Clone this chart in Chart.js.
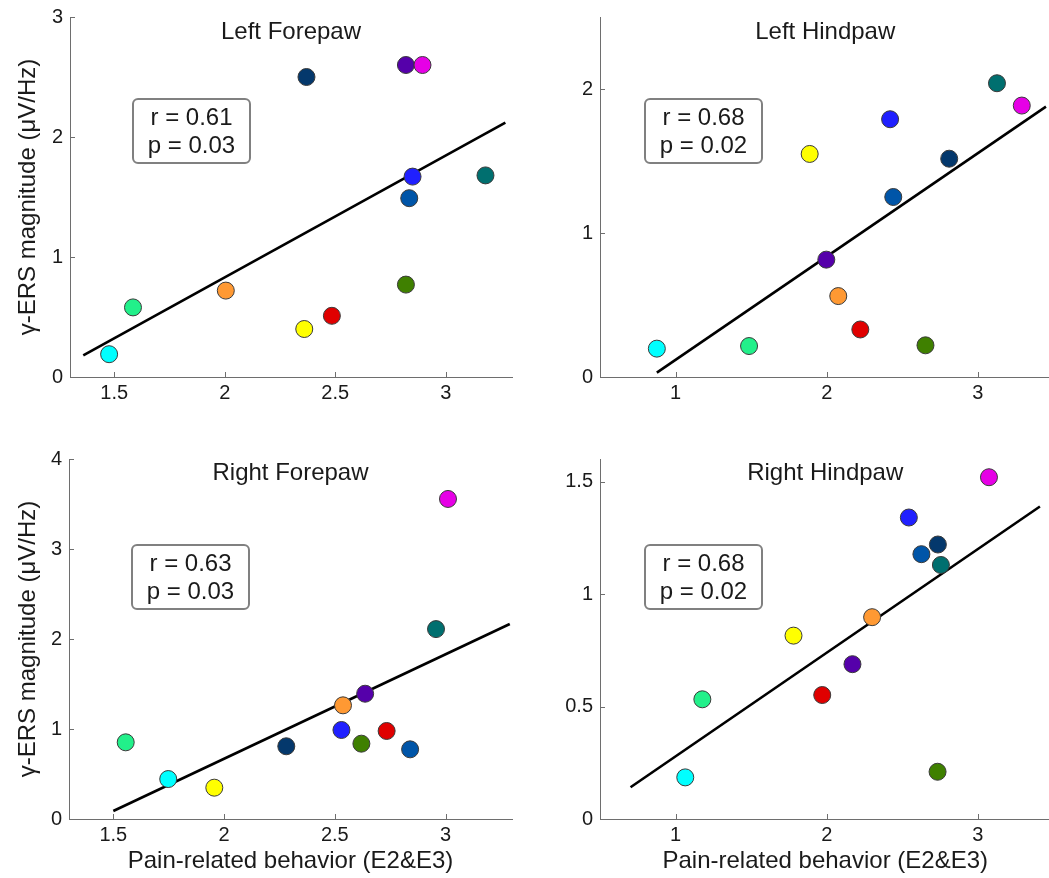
<!DOCTYPE html>
<html>
<head>
<meta charset="utf-8">
<script src="https://cdn.jsdelivr.net/npm/chart.js@4"></script>
<style>
  html, body { margin: 0; padding: 0; background: #fff; overflow: hidden; }
  #wrap { position: relative; width: 1049px; height: 878px; overflow: hidden; }
  canvas { position: absolute; }
</style>
</head>
<body>
<div id="wrap">
  <canvas id="lf" width="525" height="420" style="left:0;top:0"></canvas>
  <canvas id="lh" width="535" height="420" style="left:525px;top:0"></canvas>
  <canvas id="rf" width="525" height="458" style="left:0;top:420px"></canvas>
  <canvas id="rh" width="535" height="458" style="left:525px;top:420px"></canvas>
</div>
<script>
// one colour per animal, same order in every panel
const animalColors = ['#00ffff', '#22f08a', '#ffff00', '#ff9933', '#e00000', '#5500aa',
                      '#3f8000', '#2020ff', '#0055a8', '#04386c', '#006f6f', '#e600e6'];

// Left Forepaw
const lfX = [1.477, 1.585, 2.36, 2.005, 2.485, 2.82, 2.82, 2.85, 2.835, 2.37, 3.18, 2.895];
const lfY = [0.19, 0.58, 0.40, 0.72, 0.51, 2.60, 0.77, 1.67, 1.49, 2.50, 1.68, 2.60];
const lfFit = [1.36, 0.18, 3.27, 2.12];
const lfStats = ['r = 0.61', 'p = 0.03'];

// Left Hindpaw
const lhX = [0.876, 1.486, 1.887, 2.076, 2.222, 1.997, 2.653, 2.419, 2.44, 2.81, 3.126, 3.29];
const lhY = [0.197, 0.215, 1.549, 0.562, 0.33, 0.815, 0.22, 1.79, 1.25, 1.516, 2.04, 1.885];
const lhFit = [0.876, 0.03, 3.45, 1.878];
const lhStats = ['r = 0.68', 'p = 0.02'];

// Right Forepaw
const rfX = [1.748, 1.556, 1.956, 2.537, 2.734, 2.637, 2.62, 2.53, 2.84, 2.281, 2.957, 3.011];
const rfY = [0.444, 0.852, 0.348, 1.263, 0.978, 1.392, 0.837, 0.989, 0.774, 0.808, 2.11, 3.556];
const rfFit = [1.5, 0.089, 3.29, 2.167];
const rfStats = ['r = 0.63', 'p = 0.03'];

// Right Hindpaw
const rhX = [1.064, 1.177, 1.78, 2.30, 1.97, 2.17, 2.733, 2.543, 2.626, 2.735, 2.755, 3.073];
const rhY = [0.185, 0.532, 0.815, 0.897, 0.551, 0.688, 0.21, 1.340, 1.177, 1.22, 1.129, 1.519];
const rhFit = [0.702, 0.141, 3.41, 1.389];
const rhStats = ['r = 0.68', 'p = 0.02'];

// ticks
const foreXTicks = [1.5, 2, 2.5, 3];
const hindXTicks = [1, 2, 3];
const lfYTicks = [0, 1, 2, 3];
const lhYTicks = [0, 1, 2];
const rfYTicks = [0, 1, 2, 3, 4];
const rhYTicks = [0, 0.5, 1, 1.5];

const xLabel = 'Pain-related behavior (E2&E3)';
const yLabel = 'γ-ERS magnitude (μV/Hz)';

const FONT = '"Liberation Sans", Arial, sans-serif';
const AXIS_COLOR = '#6e6e6e';
const TEXT_COLOR = '#1a1a1a';

document.addEventListener('DOMContentLoaded', () => {

  function makePanel(id, p) {
    const ctx = document.getElementById(id).getContext('2d');

    // title, r/p box and inward tick marks (matlab style)
    const decor = {
      id: 'decor',
      afterDraw(chart) {
        const c = chart.ctx;
        const a = chart.chartArea;
        const sx = chart.scales.x, sy = chart.scales.y;
        c.save();
        c.strokeStyle = AXIS_COLOR;
        c.lineWidth = 1;
        c.beginPath();
        sx.ticks.forEach(t => {
          const px = Math.round(sx.getPixelForValue(t.value)) + 0.5;
          c.moveTo(px, a.bottom); c.lineTo(px, a.bottom - 5);
        });
        sy.ticks.forEach(t => {
          const py = Math.round(sy.getPixelForValue(t.value)) + 0.5;
          c.moveTo(a.left, py); c.lineTo(a.left + 5, py);
        });
        c.stroke();

        c.fillStyle = TEXT_COLOR;
        c.font = '24px ' + FONT;
        c.textAlign = 'center';
        c.textBaseline = 'middle';
        c.fillText(p.title, (a.left + a.right) / 2, a.top + p.titleDy);

        const bx = a.left + p.boxDx, by = a.top + p.boxDy, bw = 117, bh = 64;
        c.beginPath();
        c.roundRect(bx, by, bw, bh, 5);
        c.fillStyle = '#fff';
        c.fill();
        c.strokeStyle = '#808080';
        c.lineWidth = 2;
        c.stroke();
        c.fillStyle = TEXT_COLOR;
        c.fillText(p.stats[0], bx + bw / 2, by + 19);
        c.fillText(p.stats[1], bx + bw / 2, by + 47);
        c.restore();
      }
    };

    return new Chart(ctx, {
      type: 'scatter',
      data: {
        datasets: [
          {
            type: 'scatter',
            data: p.xs.map((x, i) => ({ x: x, y: p.ys[i] })),
            backgroundColor: animalColors,
            borderColor: '#3a3a3a',
            borderWidth: 1,
            pointRadius: 8.5,
            pointHoverRadius: 8.5,
            clip: false,
            order: 0
          },
          {
            type: 'line',
            data: [{ x: p.fit[0], y: p.fit[1] }, { x: p.fit[2], y: p.fit[3] }],
            borderColor: '#000',
            borderWidth: 2.6,
            pointRadius: 0,
            fill: false,
            order: 1
          }
        ]
      },
      options: {
        responsive: false,
        animation: false,
        events: [],
        layout: { padding: p.pad },
        plugins: { legend: { display: false }, tooltip: { enabled: false } },
        scales: {
          x: {
            type: 'linear',
            min: p.xMin, max: p.xMax,
            afterBuildTicks: s => { s.ticks = p.xTicks.map(v => ({ value: v })); },
            afterFit: s => { s.height = p.xH; },
            grid: { display: false, drawTicks: false },
            border: { display: true, color: AXIS_COLOR, width: 1 },
            ticks: { color: TEXT_COLOR, font: { family: FONT, size: 20 }, padding: 4,
                     maxRotation: 0, callback: v => String(v) },
            title: { display: p.showX, text: xLabel, color: TEXT_COLOR,
                     font: { family: FONT, size: 24 }, padding: { top: 0, bottom: 2 } }
          },
          y: {
            type: 'linear',
            min: p.yMin, max: p.yMax,
            afterBuildTicks: s => { s.ticks = p.yTicks.map(v => ({ value: v })); },
            afterFit: s => { s.width = p.yW; s.paddingTop = 0; s.paddingBottom = 0; },
            grid: { display: false, drawTicks: false },
            border: { display: true, color: AXIS_COLOR, width: 1 },
            ticks: { color: TEXT_COLOR, font: { family: FONT, size: 20 }, padding: 7,
                     callback: v => String(v) },
            title: { display: p.showY, text: yLabel, color: TEXT_COLOR,
                     font: { family: FONT, size: 24 }, padding: { top: 13.6, bottom: 0 } }
          }
        }
      },
      plugins: [decor]
    });
  }

  makePanel('lf', {
    title: 'Left Forepaw', stats: lfStats, xs: lfX, ys: lfY, fit: lfFit,
    xMin: 1.3, xMax: 3.3, yMin: 0, yMax: 3, xTicks: foreXTicks, yTicks: lfYTicks,
    pad: { top: 17, right: 13, bottom: 0, left: 0 }, xH: 43, yW: 70,
    showX: false, showY: true, titleDy: 15, boxDx: 63, boxDy: 82
  });

  makePanel('lh', {
    title: 'Left Hindpaw', stats: lhStats, xs: lhX, ys: lhY, fit: lhFit,
    xMin: 0.5, xMax: 3.48, yMin: 0, yMax: 2.5, xTicks: hindXTicks, yTicks: lhYTicks,
    pad: { top: 17, right: 0, bottom: 0, left: 0 }, xH: 43, yW: 75,
    showX: false, showY: false, titleDy: 15, boxDx: 45, boxDy: 82
  });

  makePanel('rf', {
    title: 'Right Forepaw', stats: rfStats, xs: rfX, ys: rfY, fit: rfFit,
    xMin: 1.3, xMax: 3.3, yMin: 0, yMax: 4, xTicks: foreXTicks, yTicks: rfYTicks,
    pad: { top: 39, right: 13, bottom: 0, left: 0 }, xH: 59, yW: 69,
    showX: true, showY: true, titleDy: 14, boxDx: 63, boxDy: 86
  });

  makePanel('rh', {
    title: 'Right Hindpaw', stats: rhStats, xs: rhX, ys: rhY, fit: rhFit,
    xMin: 0.5, xMax: 3.48, yMin: 0, yMax: 1.6, xTicks: hindXTicks, yTicks: rhYTicks,
    pad: { top: 39, right: 0, bottom: 0, left: 0 }, xH: 59, yW: 75,
    showX: true, showY: false, titleDy: 14, boxDx: 45, boxDy: 86
  });
});
</script>
</body>
</html>
